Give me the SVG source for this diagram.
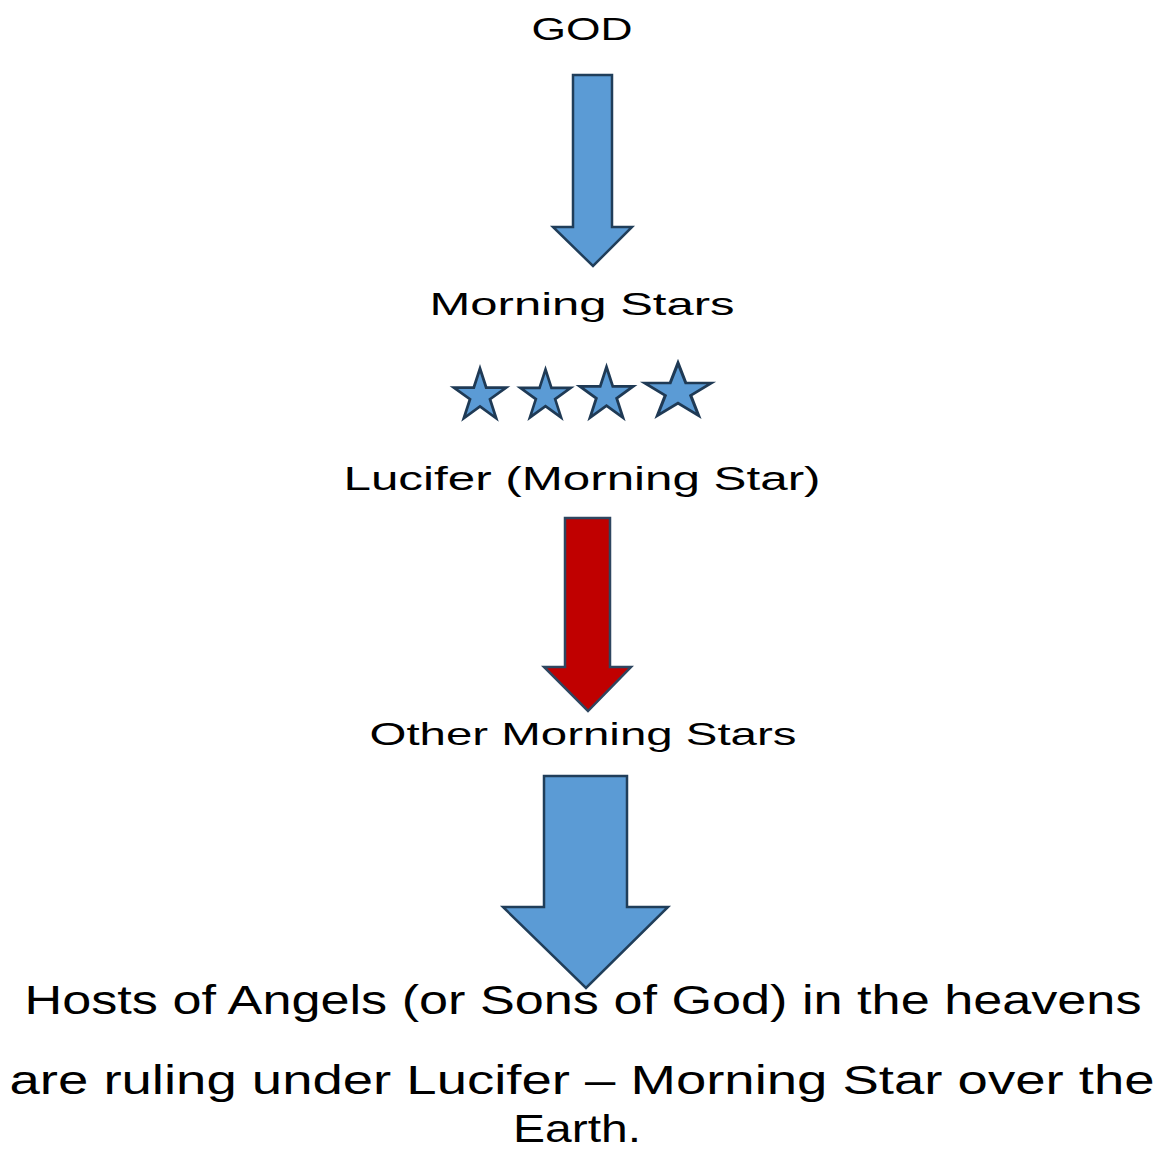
<svg xmlns="http://www.w3.org/2000/svg" width="1164" height="1151" viewBox="0 0 1164 1151">
<style>
.t{font-family:"Liberation Sans","DejaVu Sans",sans-serif;fill:#000;text-anchor:middle}
.blue{fill:#5b9bd5;stroke:#203e5a;stroke-width:2.5;stroke-linejoin:miter}
.red{fill:#c00000;stroke:#2e4660;stroke-width:2.5}
.star{fill:#5b9bd5;stroke:#1f3a55;stroke-linejoin:miter}
</style>
<defs>
<polygon id="st" points="0,-1 0.2245,-0.309 0.951,-0.309 0.3633,0.118 0.5878,0.809 0,0.382 -0.5878,0.809 -0.3633,0.118 -0.951,-0.309 -0.2245,-0.309"/>
</defs>
<rect width="1164" height="1151" fill="#fff"/>
<g id="god"><text class="t" x="582" y="40" font-size="32" textLength="101" lengthAdjust="spacingAndGlyphs">GOD</text></g>
<g id="morning-stars"><text class="t" x="582" y="315" font-size="32" textLength="305" lengthAdjust="spacingAndGlyphs">Morning Stars</text></g>
<g id="stars">
<use href="#st" class="star" transform="translate(480,396) scale(27.5)" style="stroke-width:0.1"/>
<use href="#st" class="star" transform="translate(545.5,396) scale(26.5)" style="stroke-width:0.1"/>
<use href="#st" class="star" transform="translate(606.5,395) scale(28)" style="stroke-width:0.1"/>
<use href="#st" class="star" transform="translate(678,392) scale(35,29)" style="stroke-width:0.09"/>
</g>
<g id="lucifer"><text class="t" x="582" y="490" font-size="34" textLength="477" lengthAdjust="spacingAndGlyphs">Lucifer (Morning Star)</text></g>
<g id="other-morning-stars"><text class="t" x="583" y="745" font-size="32" textLength="427" lengthAdjust="spacingAndGlyphs">Other Morning Stars</text></g>
<g id="hosts">
<text class="t" x="583" y="1014" font-size="40" textLength="1117" lengthAdjust="spacingAndGlyphs">Hosts of Angels (or Sons of God) in the heavens</text>
<text class="t" x="582" y="1094" font-size="40" textLength="1145" lengthAdjust="spacingAndGlyphs">are ruling under Lucifer – Morning Star over the</text>
<text class="t" x="577" y="1142" font-size="38" textLength="128" lengthAdjust="spacingAndGlyphs">Earth.</text>
</g>
<g id="connectors">
<polygon class="blue" points="573,75 612,75 612,227 632,227 593,266 553,227 573,227"/>
<polygon class="red" points="565,518 610,518 610,667 631,667 588,711 544,667 565,667"/>
<polygon class="blue" points="544,776 627,776 627,907 668,907 586,988 503,907 544,907"/>
</g>
</svg>
